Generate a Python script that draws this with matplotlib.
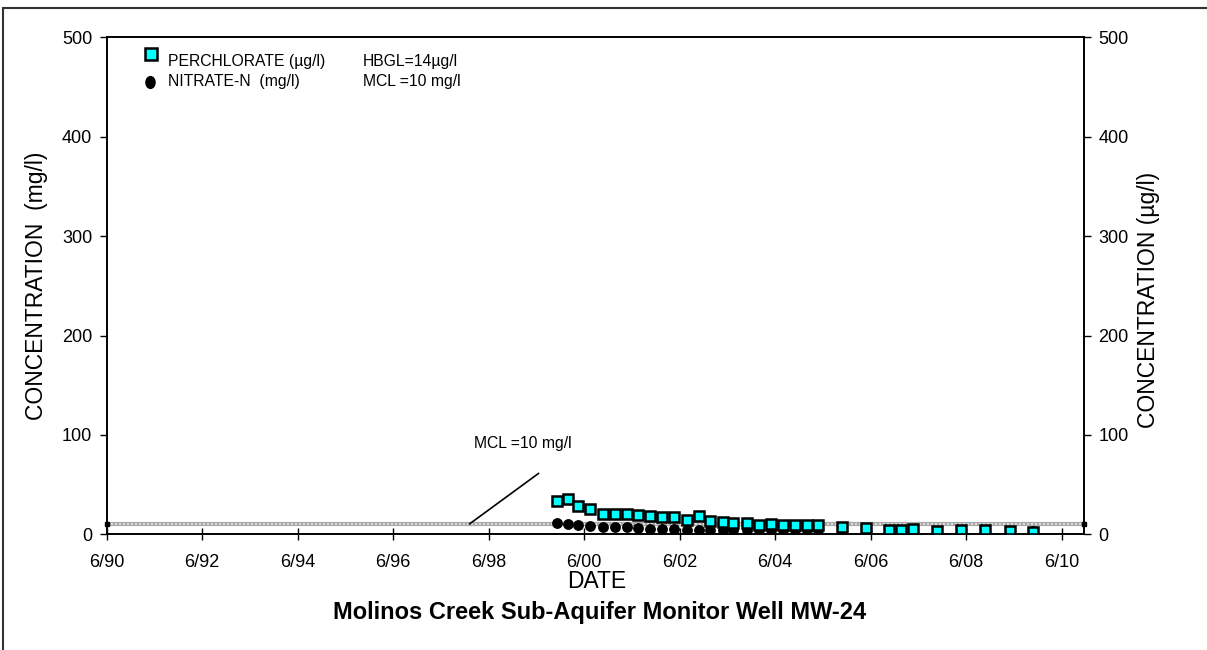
import matplotlib
matplotlib.use("Agg")
import matplotlib.pyplot as plt
from matplotlib.patches import Rectangle
from matplotlib.path import Path

plt.rcParams["font.family"] = ["Liberation Sans", "DejaVu Sans"]

# Sampling dates (decimal years) shared by both analytes
sample_dates = [
    1999.84, 2000.08, 2000.29, 2000.54, 2000.80, 2001.06, 2001.32, 2001.54,
    2001.79, 2002.04, 2002.30, 2002.57, 2002.82, 2003.05, 2003.32, 2003.53,
    2003.82, 2004.07, 2004.33, 2004.58, 2004.82, 2005.07, 2005.30, 2005.81,
    2006.31, 2006.80, 2007.05, 2007.30, 2007.80, 2008.30, 2008.81, 2009.32,
    2009.81,
]

# Perchlorate, ug/l
perchlorate = [
    33.5, 35.5, 28.8, 25.5, 20.4, 20.7, 20.7, 19.7,
    18.7, 17.7, 17.4, 14.7, 18.1, 13.1, 12.7, 11.7,
    11.1, 9.7, 10.7, 9.7, 9.4, 9.1, 9.4, 7.0,
    6.6, 4.6, 4.6, 5.0, 3.6, 4.6, 4.3, 3.6,
    2.0,
]

# Nitrate as N, mg/l
nitrate = [
    11.1, 10.4, 9.1, 8.4, 7.0, 7.0, 7.0, 6.3,
    5.6, 5.6, 5.0, 4.3, 4.3, 4.3, 4.3, 4.3,
    4.3, 4.3, 4.3, 4.3, 4.3, 4.3, 4.3, 4.0,
    4.0, 4.0, 4.0, 4.0, 3.8, 3.8, 3.8, 3.8,
    3.5,
]

mcl_nitrate = 10  # mg/l

tick_years = [1990, 1992, 1994, 1996, 1998, 2000, 2002, 2004, 2006, 2008, 2010]
tick_labels = ["6/90", "6/92", "6/94", "6/96", "6/98", "6/00",
               "6/02", "6/04", "6/06", "6/08", "6/10"]
JUNE = 0.414
x_start = 1990 + JUNE
x_end = 2010.88

W, H = 1207, 650
fig = plt.figure(figsize=(W / 100, H / 100), dpi=100)
ax = fig.add_axes([106.7 / W, 1 - 534.3 / H, (1084 - 106.7) / W, (534.3 - 37.3) / H])

# MCL reference line
ax.plot([x_start, x_end], [mcl_nitrate, mcl_nitrate], color="#a8a8a8", lw=3.0,
        solid_capstyle="butt", zorder=1)
ax.plot([x_start, x_end], [mcl_nitrate, mcl_nitrate], color="#e6e6e6", lw=1.2,
        linestyle=(0, (1.2, 1.2)), zorder=1.1)
ax.plot([x_start, x_end], [mcl_nitrate, mcl_nitrate], ls="none", marker="s",
        ms=3, color="black", clip_on=False, zorder=1.2)

ax.plot(sample_dates, nitrate, ls="none", marker="o", ms=7.8, mfc="black",
        mec="black", mew=0, zorder=3)
ax.plot(sample_dates, perchlorate, ls="none", marker="s", ms=7.2, mfc="#00ffff",
        mec="black", mew=1.8, zorder=4)

ax.set_xlim(x_start, x_end)
ax.set_ylim(0, 500)
ax.set_xticks([y + JUNE for y in tick_years])
ax.set_xticklabels(tick_labels)
ax.set_yticks(range(0, 501, 100))
ax.tick_params(axis="x", direction="inout", length=9, width=1.0, labelsize=13,
               pad=10)
ax.tick_params(axis="y", direction="out", length=5, width=1.0, labelsize=13,
               pad=5.5)
for s in ax.spines.values():
    s.set_linewidth(1.2)

ax2 = ax.twinx()
ax2.set_ylim(0, 500)
ax2.set_yticks(range(0, 501, 100))
ax2.tick_params(axis="y", direction="out", length=5, width=1.0, labelsize=13,
                pad=5.5)
for s in ax2.spines.values():
    s.set_linewidth(1.2)

# Legend block
upright_dot = Path.unit_circle().transformed(
    matplotlib.transforms.Affine2D().scale(0.8, 1.0))
ax.plot([x_start + 0.92], [483], ls="none", marker="s", ms=8.5, mfc="#00ffff",
        mec="black", mew=1.8, clip_on=False)
ax.plot([x_start + 0.90], [455], ls="none", marker=upright_dot, ms=9.5,
        mfc="black", mec="black", mew=0, clip_on=False)
ax.text(x_start + 1.29, 476, "PERCHLORATE (µg/l)", fontsize=11.3, va="center")
ax.text(x_start + 1.29, 456, "NITRATE-N  (mg/l)", fontsize=11.3, va="center")
ax.text(x_start + 5.37, 476, "HBGL=14µg/l", fontsize=11.3, va="center")
ax.text(x_start + 5.37, 456, "MCL =10 mg/l", fontsize=11.3, va="center")

# MCL callout
ax.plot([1998.0, 1999.47], [mcl_nitrate, 61.7], color="black", lw=1.2,
        solid_capstyle="butt", zorder=2)
ax.text(1998.11, 91, "MCL =10 mg/l", fontsize=11.3, va="center", ha="left")

fig.text(37 / W, 1 - 286 / H, "CONCENTRATION  (mg/l)", rotation=90,
         fontsize=16.5, ha="center", va="center")
fig.text(1148 / W, 1 - 300 / H, "CONCENTRATION (µg/l)", rotation=90,
         fontsize=16.5, ha="center", va="center")
fig.text(597 / W, 1 - 581 / H, "DATE", fontsize=16.5, ha="center", va="center")
fig.text(600 / W, 1 - 612 / H, "Molinos Creek Sub-Aquifer Monitor Well MW-24",
         fontsize=17, fontweight="bold", ha="center", va="center")

fig.patches.append(Rectangle((3 / W, -0.2), 1.5, 1.2 - 7.5 / H,
                             transform=fig.transFigure, fill=False,
                             edgecolor="#333333", lw=1.5))

fig.savefig("out.png", dpi=100)
